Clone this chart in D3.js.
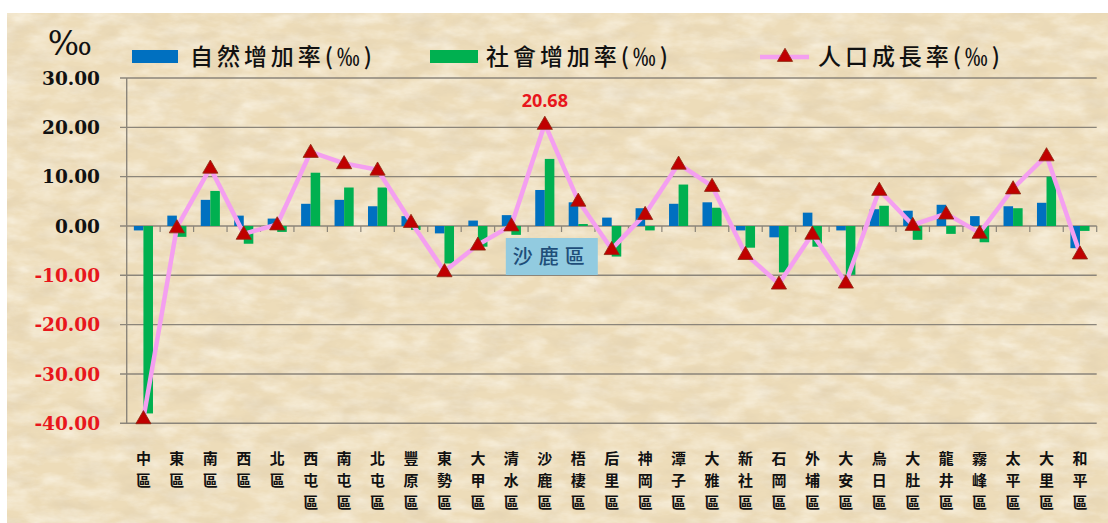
<!DOCTYPE html>
<html>
<head>
<meta charset="utf-8">
<script src="https://cdn.jsdelivr.net/npm/d3@7"></script>
<style>
  html, body { margin: 0; padding: 0; background: #fff; }
  svg { display: block; }
</style>
</head>
<body>
<svg width="1108" height="523"></svg>
<script>
// 臺中市各區人口增加率 (‰)
const districts = ['中區', '東區', '南區', '西區', '北區', '西屯區', '南屯區', '北屯區', '豐原區', '東勢區',
  '大甲區', '清水區', '沙鹿區', '梧棲區', '后里區', '神岡區', '潭子區', '大雅區', '新社區', '石岡區',
  '外埔區', '大安區', '烏日區', '大肚區', '龍井區', '霧峰區', '太平區', '大里區', '和平區'];
const naturalRate = [-0.9, 2.1, 5.3, 2.1, 1.5, 4.5, 5.3, 4.0, 2.0, -1.5,
  1.1, 2.2, 7.3, 4.8, 1.7, 3.6, 4.5, 4.8, -0.9, -2.3,
  2.7, -0.9, 3.4, 3.1, 4.3, 2.0, 4.0, 4.7, -4.5];
const socialRate = [-38.0, -2.2, 7.1, -3.6, -1.2, 10.8, 7.8, 7.8, -0.8, -7.6,
  -4.2, -1.8, 13.6, 0.4, -6.2, -0.9, 8.4, 3.7, -4.4, -9.4,
  -4.2, -9.9, 4.1, -2.8, -1.6, -3.3, 3.6, 10.0, -1.0];
const growthRate = [-39.0, -0.3, 11.8, -1.6, 0.3, 15.0, 12.7, 11.4, 0.8, -9.2,
  -3.8, 0.1, 20.68, 5.1, -4.7, 2.4, 12.6, 8.1, -5.7, -11.7,
  -1.6, -11.5, 7.3, 0.2, 2.5, -1.4, 7.6, 14.3, -5.6];
const yTicks = [30, 20, 10, 0, -10, -20, -30, -40];
const legendItems = ['自然增加率(‰)', '社會增加率(‰)', '人口成長率(‰)'];

const svg = d3.select('svg');
const defs = svg.append('defs');

// parchment texture
const f = defs.append('filter').attr('id', 'paper')
  .attr('x', 0).attr('y', 0).attr('width', '100%').attr('height', '100%');
f.append('feTurbulence').attr('type', 'fractalNoise')
  .attr('baseFrequency', '0.025 0.06').attr('numOctaves', 5).attr('seed', 7);
f.append('feColorMatrix').attr('type', 'matrix')
  .attr('values', '0 0 0 0 0.68  0 0 0 0 0.57  0 0 0 0 0.4  0.8 0 0 0 -0.34');

const f2 = defs.append('filter').attr('id', 'paperLight')
  .attr('x', 0).attr('y', 0).attr('width', '100%').attr('height', '100%');
f2.append('feTurbulence').attr('type', 'fractalNoise')
  .attr('baseFrequency', '0.035 0.08').attr('numOctaves', 4).attr('seed', 3);
f2.append('feColorMatrix').attr('type', 'matrix')
  .attr('values', '0 0 0 0 1  0 0 0 0 0.98  0 0 0 0 0.92  1.0 0 0 0 -0.35');

svg.append('rect').attr('x', 7).attr('y', 13).attr('width', 1101).attr('height', 510)
  .attr('fill', '#eddcb9');
svg.append('rect').attr('x', 7).attr('y', 13).attr('width', 1101).attr('height', 510)
  .attr('filter', 'url(#paperLight)');
svg.append('rect').attr('x', 7).attr('y', 13).attr('width', 1101).attr('height', 510)
  .attr('filter', 'url(#paper)');

// scales
const x = d3.scaleBand().domain(districts).range([126.7, 1096.7]);
const xs = d3.scaleBand().domain(['n', 's']).range([0, x.bandwidth()])
  .paddingInner(0).paddingOuter(0.75);
const y = d3.scaleLinear().domain([-40, 30]).range([423.3, 78]);

const gridColor = '#8b857a';
const serif = 'DejaVu Serif, Liberation Serif, serif';
const cjk = 'Noto Sans CJK TC, Noto Sans CJK SC, sans-serif';

// gridlines
svg.append('g').selectAll('line').data(yTicks).join('line')
  .attr('x1', 120).attr('x2', 1096.7)
  .attr('y1', d => y(d)).attr('y2', d => y(d))
  .attr('stroke', gridColor).attr('stroke-width', 1.4);

// y axis line
svg.append('line').attr('x1', 126.7).attr('x2', 126.7)
  .attr('y1', y(30)).attr('y2', y(-40))
  .attr('stroke', gridColor).attr('stroke-width', 1.4);

// category ticks under zero line
const tickPos = districts.map(d => x(d)).concat([x.range()[1]]);
svg.append('g').selectAll('line').data(tickPos.slice(1)).join('line')
  .attr('x1', d => d).attr('x2', d => d)
  .attr('y1', y(0)).attr('y2', y(0) + 6)
  .attr('stroke', gridColor).attr('stroke-width', 1.2);

// y tick labels
svg.append('g').selectAll('text').data(yTicks).join('text')
  .attr('x', 100).attr('y', d => y(d))
  .attr('dy', '0.36em')
  .attr('text-anchor', 'end')
  .style('font-family', serif)
  .attr('font-weight', 'bold')
  .attr('font-size', 18.5)
  .attr('fill', d => d < 0 ? '#e8161c' : '#111')
  .text(d => d.toFixed(2));

svg.append('text').attr('x', 70).attr('y', 55).attr('text-anchor', 'middle')
  .style('font-family', serif).attr('font-size', 33)
  .attr('fill', '#111').text('‰');

// bars
const rows = districts.map((d, i) => ({ d, n: naturalRate[i], s: socialRate[i], g: growthRate[i] }));
const groups = svg.append('g').selectAll('g').data(rows).join('g')
  .attr('transform', r => `translate(${x(r.d)},0)`);
groups.append('rect')
  .attr('x', xs('n')).attr('width', xs.bandwidth())
  .attr('y', r => y(Math.max(0, r.n))).attr('height', r => Math.abs(y(r.n) - y(0)))
  .attr('fill', '#0070c0');
groups.append('rect')
  .attr('x', xs('s')).attr('width', xs.bandwidth())
  .attr('y', r => y(Math.max(0, r.s))).attr('height', r => Math.abs(y(r.s) - y(0)))
  .attr('fill', '#00b050');

// line
const cx = d => x(d) + x.bandwidth() / 2;
const line = d3.line().x(r => cx(r.d)).y(r => y(r.g));
svg.append('path').datum(rows).attr('d', line)
  .attr('fill', 'none').attr('stroke', '#f49ff0').attr('stroke-width', 4.5)
  .attr('stroke-linejoin', 'round');

const tri = d3.symbol().type(d3.symbolTriangle).size(100);
svg.append('g').selectAll('path').data(rows).join('path')
  .attr('d', tri)
  .attr('transform', r => `translate(${cx(r.d)},${y(r.g) + 1})`)
  .attr('fill', '#c00000').attr('stroke', '#8a2a10').attr('stroke-width', 0.8);

// peak label
const peak = rows[d3.maxIndex(rows, r => r.g)];
svg.append('text').attr('x', cx(peak.d)).attr('y', y(peak.g) - 17)
  .attr('text-anchor', 'middle')
  .style('font-family', 'Open Sans, sans-serif').attr('font-weight', 'bold')
  .attr('font-size', 18).attr('fill', '#e8161c')
  .text(peak.g.toFixed(2));

// highlighted district box
const bx = cx(peak.d);
svg.append('rect').attr('x', bx - 39).attr('y', 238).attr('width', 92).attr('height', 37)
  .attr('fill', '#92cbe0');
svg.append('text').attr('x', bx + 7).attr('y', 257).attr('dy', '0.35em')
  .attr('text-anchor', 'middle')
  .style('font-family', cjk).attr('font-size', 20).attr('font-weight', 500)
  .attr('fill', '#1f4e79').attr('letter-spacing', 6)
  .text(peak.d);

// x labels, one character per text, stacked
const chars = districts.flatMap(d => Array.from(d).map((c, i) => ({ c, d, i })));
svg.append('g').selectAll('text').data(chars).join('text')
  .attr('x', t => cx(t.d)).attr('y', t => 464 + t.i * 22)
  .attr('text-anchor', 'middle')
  .style('font-family', cjk)
  .attr('font-weight', 'bold')
  .attr('font-size', 15).attr('fill', '#111')
  .text(t => t.c);

// legend
const lg = svg.append('g').style('font-family', cjk).attr('font-weight', 500)
  .attr('font-size', 23).attr('fill', '#111');
lg.append('rect').attr('x', 132).attr('y', 50).attr('width', 46).attr('height', 13).attr('fill', '#0070c0');
lg.append('text').attr('x', 190).attr('y', 65).attr('textLength', 182).attr('lengthAdjust', 'spacing')
  .text(legendItems[0]);
lg.append('rect').attr('x', 430).attr('y', 50).attr('width', 48).attr('height', 13).attr('fill', '#00b050');
lg.append('text').attr('x', 486).attr('y', 65).attr('textLength', 182).attr('lengthAdjust', 'spacing')
  .text(legendItems[1]);
lg.append('line').attr('x1', 760).attr('x2', 809).attr('y1', 57).attr('y2', 57)
  .attr('stroke', '#f49ff0').attr('stroke-width', 4.5);
lg.append('path').attr('d', tri).attr('transform', 'translate(785,57)')
  .attr('fill', '#c00000').attr('stroke', '#8a2a10').attr('stroke-width', 0.8);
lg.append('text').attr('x', 818).attr('y', 65).attr('textLength', 182).attr('lengthAdjust', 'spacing')
  .text(legendItems[2]);
</script>
</body>
</html>
